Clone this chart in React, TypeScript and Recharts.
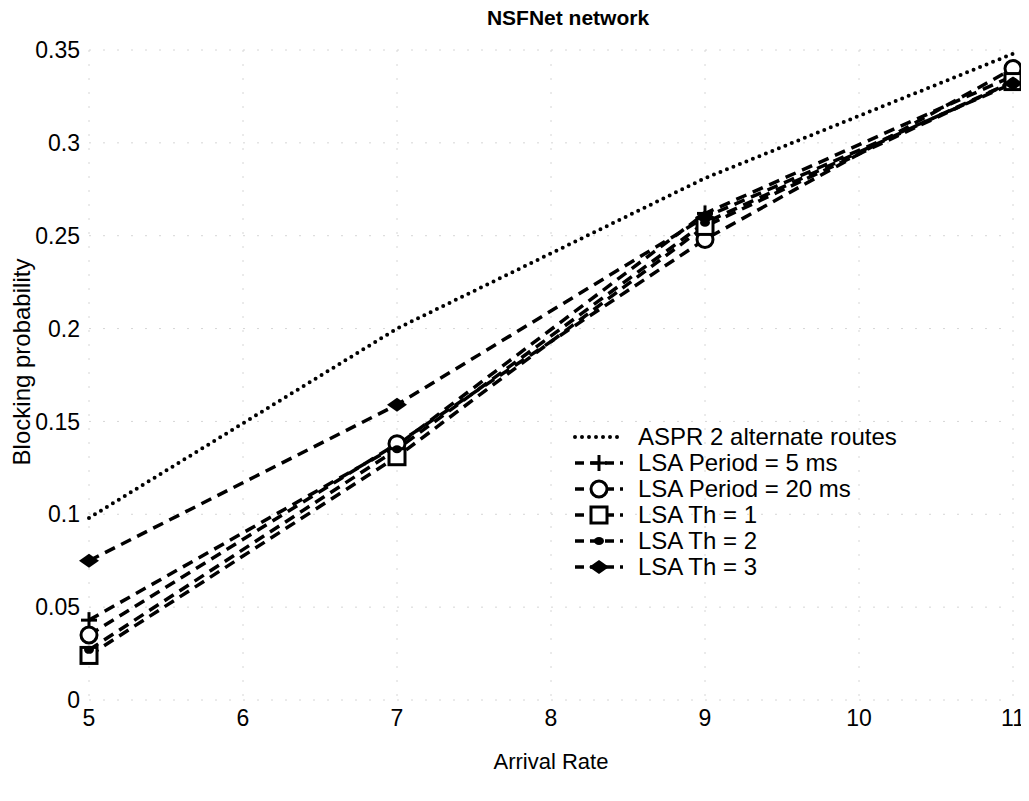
import { LineChart, Line, XAxis, YAxis, CartesianGrid, Label } from "recharts";

const arrivalRates = [5, 7, 9, 11];
const asprAlt2 = [0.098, 0.2, 0.281, 0.348];
const lsaPeriod5 = [0.043, 0.137, 0.262, 0.336];
const lsaPeriod20 = [0.035, 0.138, 0.248, 0.34];
const lsaTh1 = [0.024, 0.131, 0.255, 0.333];
const lsaTh2 = [0.027, 0.135, 0.257, 0.333];
const lsaTh3 = [0.075, 0.159, 0.26, 0.332];

const xTicks = [5, 6, 7, 8, 9, 10, 11];
const yTicks = [0, 0.05, 0.1, 0.15, 0.2, 0.25, 0.3, 0.35];

type MarkerKind = "none" | "plus" | "circle" | "square" | "dot" | "diamond";

type Series = {
  key: string;
  name: string;
  values: number[];
  marker: MarkerKind;
  dash: string;
};

const series: Series[] = [
  { key: "aspr", name: "ASPR 2 alternate routes", values: asprAlt2, marker: "none", dash: "0 7" },
  { key: "p5", name: "LSA Period = 5 ms", values: lsaPeriod5, marker: "plus", dash: "11 7" },
  { key: "p20", name: "LSA Period = 20 ms", values: lsaPeriod20, marker: "circle", dash: "11 7" },
  { key: "th1", name: "LSA Th = 1", values: lsaTh1, marker: "square", dash: "11 7" },
  { key: "th2", name: "LSA Th = 2", values: lsaTh2, marker: "dot", dash: "11 7" },
  { key: "th3", name: "LSA Th = 3", values: lsaTh3, marker: "diamond", dash: "11 7" },
];

const rows = arrivalRates.map((x, i) => {
  const row: Record<string, number> = { x };
  series.forEach((s) => {
    row[s.key] = s.values[i];
  });
  return row;
});

const FONT = "'Liberation Sans', Arial, Helvetica, sans-serif";
const INK = "#000";

function Marker({ kind, cx, cy }: { kind: MarkerKind; cx: number; cy: number }) {
  switch (kind) {
    case "plus":
      return (
        <g stroke={INK} strokeWidth={3}>
          <line x1={cx - 8} y1={cy} x2={cx + 8} y2={cy} />
          <line x1={cx} y1={cy - 8} x2={cx} y2={cy + 8} />
        </g>
      );
    case "circle":
      return <circle cx={cx} cy={cy} r={8} fill="#fff" stroke={INK} strokeWidth={3} />;
    case "square":
      return <rect x={cx - 8} y={cy - 8} width={16} height={16} fill="#fff" stroke={INK} strokeWidth={3} />;
    case "dot":
      return <ellipse cx={cx} cy={cy} rx={5} ry={4} fill={INK} />;
    case "diamond":
      return <polygon points={`${cx - 10},${cy} ${cx},${cy - 7} ${cx + 10},${cy} ${cx},${cy + 7}`} fill={INK} />;
    default:
      return null;
  }
}

function makeDot(kind: MarkerKind) {
  if (kind === "none") return false;
  return (props: any) => {
    const { cx, cy, index } = props;
    if (cx == null || cy == null) return <g key={`m-${kind}-${index}`} />;
    return (
      <g key={`m-${kind}-${index}`}>
        <Marker kind={kind} cx={cx} cy={cy} />
      </g>
    );
  };
}

// legend sits inside the plot, lower right, like the original figure
function LegendBox() {
  return (
    <div
      style={{
        position: "absolute",
        left: 572,
        top: 424,
        fontFamily: FONT,
        fontSize: 24,
        color: INK,
        lineHeight: "26px",
      }}
    >
      {series.map((s) => (
        <div key={s.key} style={{ display: "flex", alignItems: "center", height: 26 }}>
          <svg width={54} height={26} style={{ marginRight: 12 }}>
            <line
              x1={3}
              y1={13}
              x2={51}
              y2={13}
              stroke={INK}
              strokeWidth={s.marker === "none" ? 4 : 3.5}
              strokeDasharray={s.marker === "none" ? "0 7" : "9 6"}
              strokeLinecap={s.marker === "none" ? "round" : "butt"}
            />
            <Marker kind={s.marker} cx={27} cy={13} />
          </svg>
          <span style={{ whiteSpace: "nowrap" }}>{s.name}</span>
        </div>
      ))}
    </div>
  );
}

export default function App() {
  return (
    <div style={{ position: "relative", width: 1029, height: 801, background: "#fff", margin: -8 }}>
      <LineChart width={1029} height={801} data={rows} margin={{ top: 50, right: 16, bottom: 0, left: 0 }}>
        <CartesianGrid stroke="#d6d6d6" strokeDasharray="2 12" strokeWidth={1} />
        <XAxis
          dataKey="x"
          type="number"
          domain={[5, 11]}
          ticks={xTicks}
          height={101}
          axisLine={false}
          tickLine={false}
          tickSize={0}
          tickMargin={10}
          tick={{ fontSize: 23, fill: INK, fontFamily: FONT }}
        >
          <Label
            value="Arrival Rate"
            position="insideBottom"
            offset={32}
            style={{ fontSize: 22, fill: INK, fontFamily: FONT }}
          />
        </XAxis>
        <YAxis
          type="number"
          domain={[0, 0.35]}
          ticks={yTicks}
          width={89}
          axisLine={false}
          tickLine={false}
          tickSize={0}
          tickMargin={9}
          tick={{ fontSize: 23, fill: INK, fontFamily: FONT }}
        />
        {series.map((s) => (
          <Line
            key={s.key}
            dataKey={s.key}
            name={s.name}
            type="linear"
            stroke={INK}
            strokeWidth={s.marker === "none" ? 4 : 3.5}
            strokeDasharray={s.dash}
            strokeLinecap={s.marker === "none" ? "round" : "butt"}
            dot={makeDot(s.marker)}
            activeDot={false}
            isAnimationActive={false}
          />
        ))}
      </LineChart>
      <div
        style={{
          position: "absolute",
          left: 0,
          top: 6,
          width: 1136,
          textAlign: "center",
          fontFamily: FONT,
          fontSize: 21,
          fontWeight: "bold",
          color: INK,
        }}
      >
        NSFNet network
      </div>
      <div
        style={{
          position: "absolute",
          left: 22,
          top: 362,
          transform: "translate(-50%, -50%) rotate(-90deg)",
          whiteSpace: "nowrap",
          fontFamily: FONT,
          fontSize: 24,
          color: INK,
        }}
      >
        Blocking probability
      </div>
      <LegendBox />
    </div>
  );
}
